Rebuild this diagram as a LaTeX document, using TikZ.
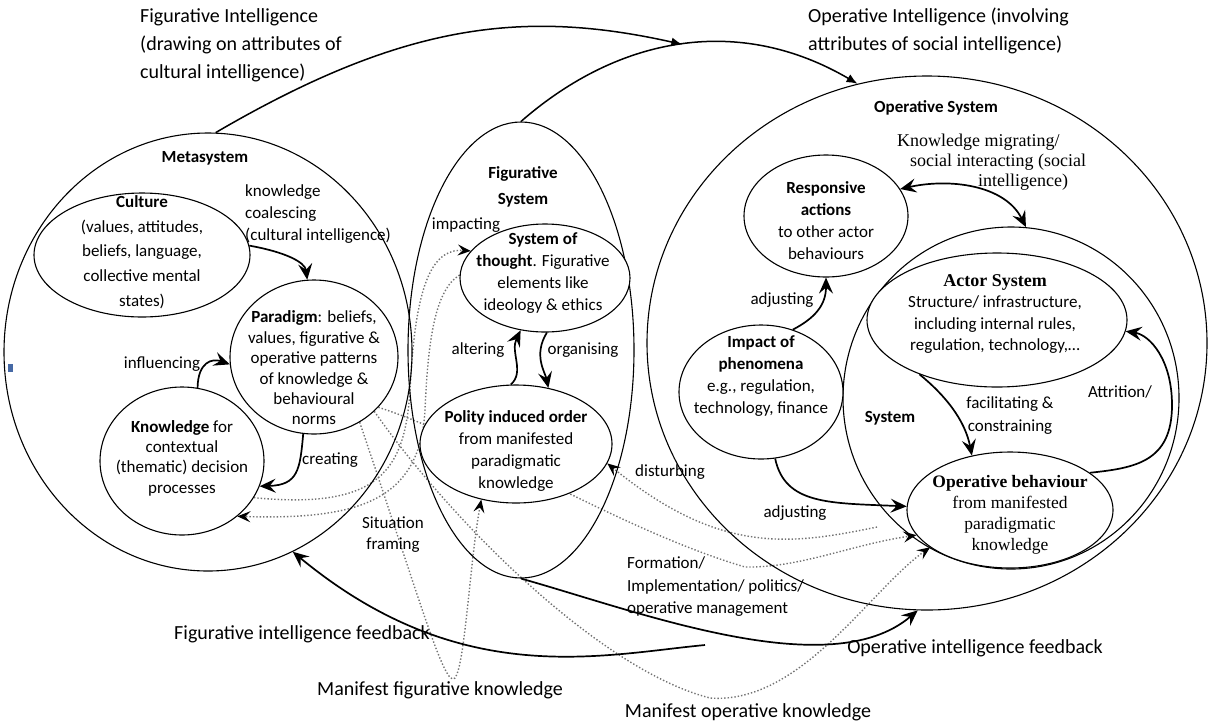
\documentclass[tikz,border=0pt]{standalone}
\usepackage{fontspec}
\setmainfont{Carlito}
\newfontfamily\timesfam{Liberation Serif}
\usetikzlibrary{arrows.meta,shapes.geometric,backgrounds}
\definecolor{markblue}{RGB}{70,105,165}
\tikzset{
  blob/.style={draw, ellipse, line width=1.1pt, inner sep=0pt},
  inblob/.style={blob, fill=white},
  txt/.style={align=center, inner sep=0pt, font=\fontsize{17}{21}\selectfont},
  bigtxt/.style={align=left, inner sep=0pt, font=\fontsize{20}{28}\selectfont},
  flow/.style={line width=1.7pt, ->},
  intel/.style={line width=1.5pt, -{Latex[length=11pt,width=9pt]}},
  dots/.style={black!55, line width=1.4pt, dotted, -{Stealth[length=13pt,width=11pt,inset=5pt,black]}},
}
\newcommand{\Blob}[6]{% name, x, y, width, height, style
  \node[#6, minimum width=#4pt, minimum height=#5pt] (#1) at (#2,#3) {};
}

\begin{document}
\begin{tikzpicture}[x=1pt,y=-1pt,>={Stealth[length=16pt,width=14pt,inset=6pt]}]
  \useasboundingbox (0,0) rectangle (1209,721);
  % outer systems
  \Blob{meta}{208}{352}{408}{438}{blob}
  \Blob{figsys}{521}{350}{226}{456}{blob}
  \Blob{opsys}{927}{343}{560}{534}{blob}
  \Blob{system}{1011}{398}{336}{342}{blob}
  % inner parts
  \Blob{culture}{142}{255}{216}{124}{inblob}
  \Blob{para}{314}{357}{168}{154}{inblob}
  \Blob{know}{182}{461}{164}{148}{inblob}
  \Blob{thought}{545}{278}{170}{108}{inblob}
  \Blob{polity}{516}{444}{192}{118}{inblob}
  \Blob{resp}{826}{216}{164}{122}{inblob}
  \Blob{impact}{761}{392}{164}{134}{inblob}
  \Blob{actor}{997}{320}{260}{134}{inblob}
  \Blob{opbeh}{1010}{510}{206}{116}{inblob}
  \fill[markblue] (8,364) rectangle (13,372);

  % texts
  \node[bigtxt, anchor=west] (figintel) at (140,45) {Figurative Intelligence\\(drawing on attributes of\\cultural intelligence)};
  \node[bigtxt, anchor=west] (opintel) at (808,31) {Operative Intelligence (involving\\attributes of social intelligence)};
  \node[txt] (metalbl) at (205,158) {\textbf{Metasystem}};
  \node[txt, font=\fontsize{17}{24.7}\selectfont] (culturelbl) at (142,252) {\textbf{Culture}\\(values, attitudes,\\beliefs, language,\\collective mental\\states)};
  \node[txt, align=left, anchor=west, font=\fontsize{17}{22}\selectfont] (coalesce) at (245,214) {knowledge\\coalescing\\(cultural intelligence)};
  \node[txt, font=\fontsize{17}{20.4}\selectfont] (paralbl) at (314,368) {\textbf{Paradigm}: beliefs,\\values, figurative \&\\operative patterns\\of knowledge \&\\behavioural\\norms};
  \node[txt] (influence) at (162,364) {influencing};
  \node[txt, font=\fontsize{17}{20.3}\selectfont] (knowlbl) at (182,458) {\textbf{Knowledge} for\\contextual\\(thematic) decision\\processes};
  \node[txt] (creating) at (330,460) {creating};
  \node[txt, font=\fontsize{17}{26.5}\selectfont\bfseries] (figsyslbl) at (523,187) {Figurative\\System};
  \node[txt] (impacting) at (466,225) {impacting};
  \node[txt, font=\fontsize{17}{22}\selectfont] (thoughtlbl) at (543,273) {\textbf{System of}\\\textbf{thought}. Figurative\\elements like\\ideology \& ethics};
  \node[txt] (altering) at (478,350) {altering};
  \node[txt] (organising) at (583,350) {organising};
  \node[txt, font=\fontsize{17}{22}\selectfont] (politylbl) at (516,451) {\textbf{Polity induced order}\\from manifested\\paradigmatic\\knowledge};
  \node[txt] (disturbing) at (670,472) {disturbing};
  \node[txt] (situation) at (393,535) {Situation\\framing};
  \node[txt, align=left, anchor=west, font=\fontsize{17}{22.5}\selectfont] (formation) at (627,587) {Formation/\\Implementation/ politics/\\operative management};
  \node[txt, font=\fontsize{20}{24}\selectfont] (figfeed) at (302,634) {Figurative intelligence feedback};
  \node[txt, font=\fontsize{20}{24}\selectfont] (manfig) at (440,690) {Manifest figurative knowledge};
  \node[txt, font=\fontsize{20}{24}\selectfont] (manop) at (748,712) {Manifest operative knowledge};
  \node[txt, font=\fontsize{20}{24}\selectfont] (opfeed) at (975,648) {Operative intelligence feedback};
  \node[txt] (opsyslbl) at (936,108) {\textbf{Operative System}};
  \node[txt, align=left, anchor=west, font=\timesfam\fontsize{18}{20}\selectfont] (migrating) at (897,162) {Knowledge migrating/\\\hspace*{13pt}social interacting (social\\\hspace*{81pt}intelligence)};
  \node[txt, font=\fontsize{17}{22}\selectfont] (resplbl) at (826,221) {\textbf{Responsive}\\\textbf{actions}\\to other actor\\behaviours};
  \node[txt] (adjustup) at (782,300) {adjusting};
  \node[txt, font=\fontsize{17}{22}\selectfont] (impactlbl) at (761,376) {\textbf{Impact of}\\\textbf{phenomena}\\e.g., regulation,\\technology, finance};
  \node[txt, font=\fontsize{17}{21.5}\selectfont] (actorlbl) at (995,314) {{\timesfam\fontsize{18}{21.5}\selectfont\bfseries Actor System}\\Structure/ infrastructure,\\including internal rules,\\regulation, technology,…};
  \node[txt] (systemlbl) at (890,418) {\textbf{System}};
  \node[txt, font=\fontsize{17}{23}\selectfont] (facil) at (1010,416) {facilitating \&\\constraining};
  \node[txt] (attrition) at (1120,392) {Attrition/};
  \node[txt] (adjustdown) at (795,513) {adjusting};
  \node[txt, font=\timesfam\fontsize{17.5}{21}\selectfont] (opbehlbl) at (1010,515) {\textbf{Operative behaviour}\\from manifested\\paradigmatic\\knowledge};

  % intelligence arcs
  \draw[intel] (figsys.north) .. controls (620,35) and (740,15) .. (opsys.105) coordinate[pos=0.5] (opmid);
  \draw[intel] (meta.88) .. controls (400,25) and (520,8) .. (opmid);

  % solid flows
  \draw[flow] (culture.5) .. controls (285,252) and (305,262) .. (para.95);
  \draw[flow] (know.78) .. controls (198,362) and (212,358) .. (para.185);
  \draw[flow] (para.262) .. controls (300,470) and (298,485) .. (know.-18);
  \draw[flow] (polity.95) .. controls (525,372) and (510,352) .. (thought.245);
  \draw[flow] (thought.272) .. controls (533,355) and (545,372) .. (polity.60);
  \draw[flow] (impact.63) .. controls (815,318) and (826,305) .. (resp.270);
  \draw[flow] (impact.282) .. controls (785,505) and (830,503) .. (opbeh.178);
  \draw[flow, <->] (resp.20) .. controls (950,178) and (1005,185) .. (system.85);
  \draw[flow] (actor.215) .. controls (945,395) and (965,420) .. (opbeh.125);
  \draw[flow] (opbeh.25) .. controls (1135,468) and (1172,462) .. (1172,405) .. controls (1172,360) and (1150,335) .. (actor.-5);
  \draw[flow] (figsys.south) .. controls (640,612) and (830,685) .. (opsys.268);
  \coordinate (fbstart) at (705,645);
  \draw[flow] (fbstart) .. controls (600,655) and (460,690) .. (meta.-67);

  % manifest knowledge (dotted)
  \coordinate (dist) at (877,527);
  \begin{pgfonlayer}{background}
    \draw[dots] (know.-27) .. controls (380,510) and (405,470) .. (410,390) .. controls (415,290) and (430,248) .. (thought.160);
    \draw[dots] (thought.178) .. controls (435,290) and (428,340) .. (425,410) .. controls (420,500) and (360,520) .. (know.-45);
    \draw[dots] (para.-55) .. controls (420,600) and (445,690) .. (455,678) .. controls (465,665) and (470,560) .. (polity.238);
    \draw[dots] (para.-42) .. controls (450,520) and (600,670) .. (710,698) .. controls (800,705) and (870,590) .. (opbeh.205);
    \draw[dots] (para.-38) .. controls (480,440) and (620,530) .. (745,567) .. controls (800,568) and (850,545) .. (opbeh.195);
    \draw[dots] (dist) .. controls (790,545) and (720,555) .. (polity.-12);
  \end{pgfonlayer}
\end{tikzpicture}
\end{document}
